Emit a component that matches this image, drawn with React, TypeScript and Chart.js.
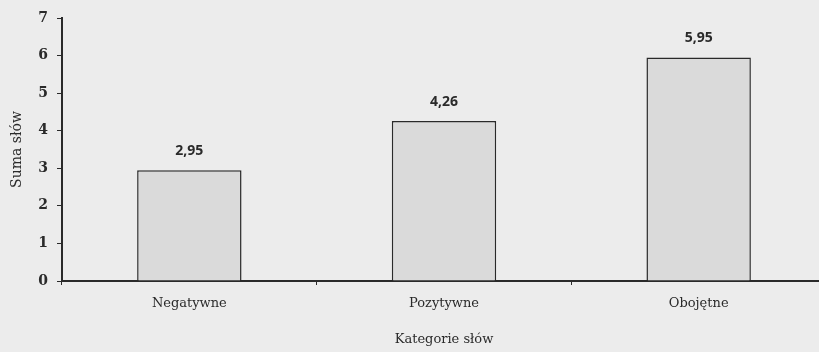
import React, { useEffect, useRef } from "react";
import { Chart, registerables } from "chart.js";

Chart.register(...registerables);

const categories = ["Negatywne", "Pozytywne", "Obojętne"];
const values = [2.95, 4.26, 5.95];
const valueLabels = ["2,95", "4,26", "5,95"];
const yTicks = [0, 1, 2, 3, 4, 5, 6, 7];

const BG = "#ececec";
const INK = "#2a2a2a";
const SERIF = "'DejaVu Serif'";

const valueLabelPlugin = {
  id: "valueLabels",
  afterDatasetsDraw(chart: any) {
    const ctx = chart.ctx;
    const meta = chart.getDatasetMeta(0);
    ctx.save();
    ctx.font = "bold 14px 'Open Sans'";
    ctx.fillStyle = INK;
    ctx.textAlign = "center";
    ctx.textBaseline = "middle";
    meta.data.forEach((el: any, i: number) => {
      ctx.fillText(valueLabels[i], el.x, el.y - 19);
    });
    ctx.restore();
  },
};

export default function App() {
  const ref = useRef<HTMLCanvasElement | null>(null);
  useEffect(() => {
    document.body.style.margin = "0";
    const canvas = ref.current!;
    const chart = new Chart(canvas, {
      type: "bar",
      data: {
        labels: categories,
        datasets: [
          {
            data: values,
            backgroundColor: "#dadada",
            borderColor: INK,
            borderWidth: 1.5,
            barPercentage: 0.41,
            categoryPercentage: 1,
          },
        ],
      },
      plugins: [valueLabelPlugin],
      options: {
        animation: false,
        responsive: false,
        maintainAspectRatio: false,
        layout: { padding: { top: 18, right: 0, left: 0, bottom: 0 } },
        plugins: { legend: { display: false }, tooltip: { enabled: false } },
        scales: {
          x: {
            offset: true,
            grid: {
              display: true,
              drawOnChartArea: false,
              tickLength: 4,
              color: INK,
              offset: true,
            },
            border: { display: true, color: INK, width: 2 },
            ticks: {
              color: INK,
              padding: 11,
              font: { family: SERIF, size: 13 },
            },
            title: {
              display: true,
              text: "Kategorie słów",
              color: INK,
              font: { family: SERIF, size: 13 },
              padding: { top: 0, bottom: 5 },
            },
            afterFit(axis: any) {
              axis.height = 71;
            },
          },
          y: {
            min: 0,
            max: 7,
            afterBuildTicks(axis: any) {
              axis.ticks = yTicks.map((v) => ({ value: v }));
            },
            grid: {
              display: true,
              drawOnChartArea: false,
              tickLength: 5,
              color: INK,
            },
            border: { display: true, color: INK, width: 2 },
            ticks: {
              color: INK,
              padding: 9,
              font: { family: SERIF, size: 14, weight: "bold" },
            },
            title: {
              display: true,
              text: "Suma słów",
              color: INK,
              font: { family: SERIF, size: 14 },
              padding: { top: 9, bottom: 0 },
            },
            afterFit(axis: any) {
              axis.width = 62;
            },
          },
        },
      },
    });
    return () => chart.destroy();
  }, []);
  return (
    <div style={{ width: 819, height: 352, background: BG, overflow: "hidden" }}>
      <canvas ref={ref} width={826} height={352} style={{ display: "block" }} />
    </div>
  );
}
